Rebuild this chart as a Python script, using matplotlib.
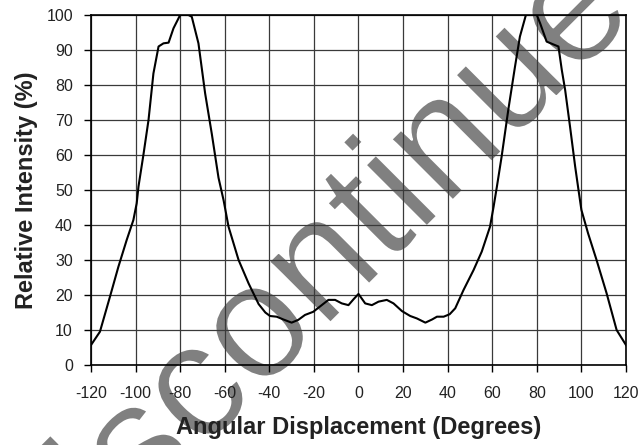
import matplotlib
matplotlib.use("Agg")
import matplotlib.pyplot as plt
import matplotlib.patheffects as pe

plt.rcParams['font.family'] = ['Liberation Sans', 'DejaVu Sans']
plt.rcParams['axes.unicode_minus'] = False

# angular displacement (deg) and relative intensity (%)
angle = [-120, -116, -111.5, -107.7, -104, -101, -99.5, -98.7, -96.5, -94.2,
         -92, -89.7, -87.5, -85.2, -83, -80, -76.3, -74.8, -71.8, -68.8,
         -65.8, -62.8, -60.5, -58.3, -53.8, -49.3, -44.8, -41.8, -39.7, -36.7,
         -33.7, -30, -27, -24, -20.3, -17.3, -13.5, -10.5, -7.5, -4.5,
         -2.2, 0, 3, 6, 9, 12.7, 15.7, 19.5, 23.2, 26.2,
         30, 33, 35.2, 38.2, 40.9, 43.4, 47.1, 51.6, 55.3, 59,
         60.6, 62.1, 64.2, 67.2, 70.2, 72.4, 75.1, 80, 81.5, 84.4,
         87.4, 89.7, 91.2, 92.7, 94.9, 97.2, 98.7, 100, 103, 106.8,
         111.3, 115.8, 120]
intensity = [5.7, 9.5, 19.5, 28.1, 35.7, 41.4, 46.2, 51, 60, 70,
             83.3, 91, 91.9, 92.1, 96.2, 100, 100, 99.5, 91.9, 77.6,
             66, 53.5, 47, 39.5, 30, 23.3, 17.4, 15, 14, 13.8,
             13, 12.1, 12.9, 14.3, 15.2, 16.7, 18.6, 18.6, 17.6, 17.1,
             18.8, 20.3, 17.6, 17.1, 18.1, 18.6, 17.6, 15.4, 14, 13.3,
             12.1, 13, 13.8, 13.8, 14.5, 16.2, 21.4, 27.1, 32.4, 39.5,
             45.2, 51, 59.5, 72.9, 85.2, 93.8, 100, 100, 97.6, 92.4,
             91.6, 91, 84.3, 78.6, 68.1, 56.7, 50, 44.3, 37.6, 30,
             20.5, 10, 5.7]

xticks = list(range(-120, 121, 20))
yticks = list(range(0, 101, 10))

fig = plt.figure(figsize=(6.4, 4.45), dpi=100, facecolor='white')
ax = fig.add_axes([0.1422, 0.1798, 0.8359, 0.7865])
ax.set_facecolor('none')

ax.plot(angle, intensity, color='black', lw=1.5, zorder=3)
ax.set_xlim(-120, 120)
ax.set_ylim(0, 100)
ax.set_xticks(xticks)
ax.set_yticks(yticks)
ax.grid(True, color='#3a3a3a', lw=0.9)
ax.set_axisbelow(True)
for s in ax.spines.values():
    s.set_color('black')
    s.set_linewidth(1.2)
ax.tick_params(direction='out', length=5, width=1, labelsize=11.5,
               colors='black', labelcolor='#222222')
ax.tick_params(axis='x', pad=10)
ax.tick_params(axis='y', pad=8)

ax.set_xlabel("Angular Displacement (Degrees)", fontsize=17, fontweight='bold',
              color='#222222', labelpad=11)
ax.set_ylabel("Relative Intensity (%)", fontsize=17, fontweight='bold',
              color='#222222', labelpad=6)

# watermark behind the plot, grey glyphs with a white edge
fig.text(0.528, 0.425, "Discontinued", rotation=45, ha='center', va='center',
         fontsize=118, color='#808080', zorder=-1,
         path_effects=[pe.Stroke(linewidth=1.5, foreground='white')])

fig.savefig("out.png", dpi=100, facecolor='white')
